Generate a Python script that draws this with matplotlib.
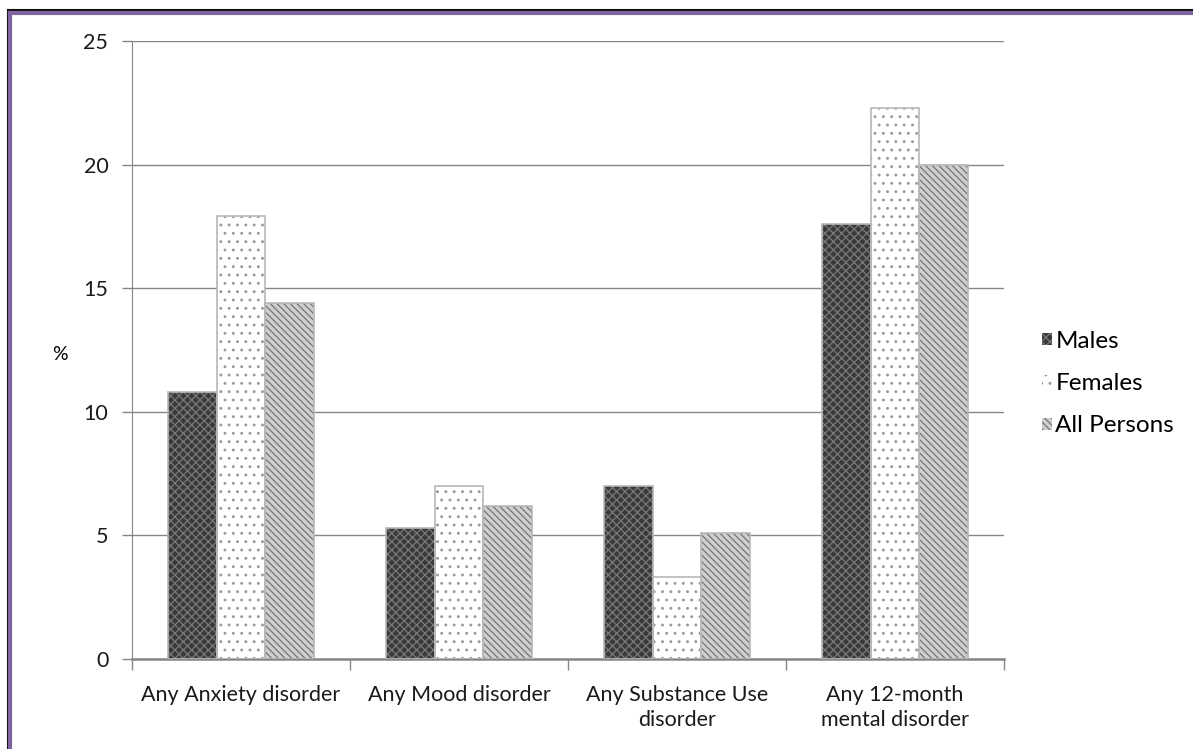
import numpy as np
import matplotlib as mpl
mpl.use('Agg')
import matplotlib.pyplot as plt
from matplotlib.patches import Patch

plt.rcParams['font.family'] = ['Lato', 'DejaVu Sans']
plt.rcParams['hatch.linewidth'] = 0.9

categories = ["Any Anxiety disorder", "Any Mood disorder",
              "Any Substance Use\ndisorder", "Any 12-month\nmental disorder"]
series = ["Males", "Females", "All Persons"]
males = [10.8, 5.3, 7.0, 17.6]
females = [17.9, 7.0, 3.3, 22.3]
all_persons = [14.4, 6.2, 5.1, 20.0]
yticks = [0, 5, 10, 15, 20, 25]

# face colour, hatch, hatch colour
styles = [
    ("#3a3a3a", "xxxx", "#7a7a7a"),
    ("#ffffff", "..", "#9a9a9a"),
    ("#cfcfcf", "\\\\\\\\\\", "#747474"),
]

fig = plt.figure(figsize=(11.93, 7.49), dpi=100)
ax = fig.add_axes([0.1106, 0.1202, 0.7310, 0.8251])

x = np.arange(len(categories))
width = 0.222
values = [males, females, all_persons]
for i, (vals, (fc, hatch, hc)) in enumerate(zip(values, styles)):
    pos = x + (i - 1) * width
    ax.bar(pos, vals, width, color=fc, edgecolor="none", zorder=2)
    ax.bar(pos, vals, width, fill=False, hatch=hatch, edgecolor=hc,
           linewidth=0, zorder=3)
    ax.bar(pos, vals, width, fill=False, edgecolor="#b8b8b8",
           linewidth=1.2, zorder=4)

ax.set_xlim(-0.5, len(categories) - 0.5)
ax.set_ylim(0, 25)
ax.set_yticks(yticks)
ax.yaxis.grid(True, color="#868686", linewidth=1.0, zorder=0)
ax.set_axisbelow(True)

ax.set_xticks(np.arange(len(categories) + 1) - 0.5)
ax.set_xticklabels([])
ax.set_xticks(x, minor=True)
ax.set_xticklabels(categories, minor=True, fontsize=15.5, color="#1a1a1a",
                   linespacing=1.3)
ax.tick_params(axis="x", which="minor", length=0, pad=19)
ax.tick_params(axis="x", which="major", length=8, color="#868686", width=1)
ax.tick_params(axis="y", length=7, color="#868686", width=1, labelsize=15.5,
               pad=10, labelcolor="#1a1a1a")

for s in ["top", "right"]:
    ax.spines[s].set_visible(False)
ax.spines["left"].set_color("#868686")
ax.spines["bottom"].set_color("#868686")
ax.spines["bottom"].set_linewidth(1.8)

ax.set_ylabel("%", rotation=0, fontsize=14, va="center", ha="center")
ax.yaxis.set_label_coords(-0.082, 0.492)

handles = [Patch(facecolor=fc, hatch=h, edgecolor=hc, linewidth=0)
           for fc, h, hc in styles]
leg = fig.legend(handles, series, loc="center left",
                 bbox_to_anchor=(0.8734, 0.488), frameon=False, fontsize=17.5,
                 borderpad=0, borderaxespad=0,
                 handlelength=0.4, handleheight=0.4, handletextpad=0.15,
                 labelspacing=0.88)

# outer frame (left and top edges only are visible)
fig.add_artist(plt.Line2D([0.0065, 0.0065], [0, 0.987], color="#111111",
                          linewidth=1.5, transform=fig.transFigure))
fig.add_artist(plt.Line2D([0.0065, 1.0], [0.9865, 0.9865], color="#111111",
                          linewidth=1.5, transform=fig.transFigure))
fig.add_artist(plt.Line2D([0.0088, 0.0088], [0, 0.983], color="#8064a2",
                          linewidth=3, transform=fig.transFigure))
fig.add_artist(plt.Line2D([0.0088, 1.0], [0.983, 0.983], color="#8064a2",
                          linewidth=3, transform=fig.transFigure))

fig.savefig("out.png", dpi=100)
